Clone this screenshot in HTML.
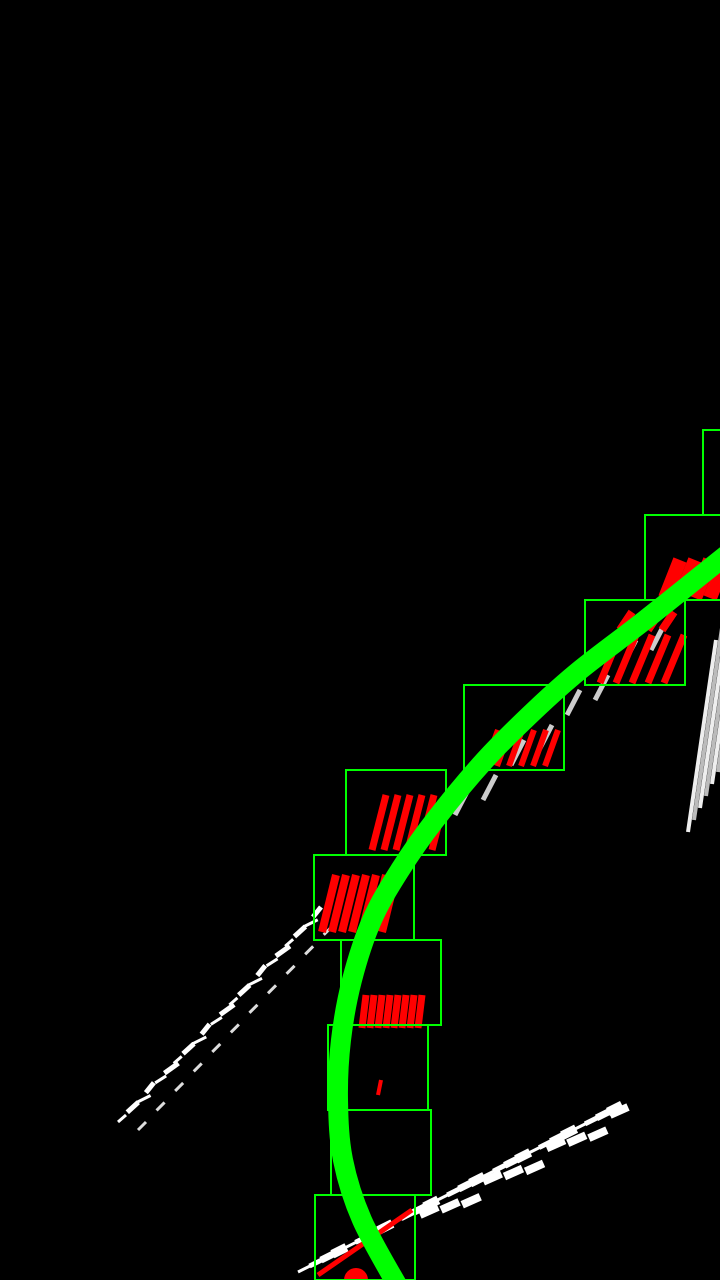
<!DOCTYPE html>
<html><head><meta charset="utf-8">
<style>html,body{margin:0;padding:0;background:#000;width:720px;height:1280px;overflow:hidden}</style>
</head><body>
<svg id="plot" width="720" height="1280" viewBox="0 0 720 1280" xmlns="http://www.w3.org/2000/svg">
<rect width="720" height="1280" fill="#000"/>
<g id="white"></g>
<g id="red"></g>
<g id="wins"></g>
<g id="fit"></g>
</svg>
<script>
// window centers (x) and top edges (y)
const windowCenters = [365, 381, 378, 391, 364, 396, 514, 635, 695, 753];
const windowTops = [1195, 1110, 1025, 940, 855, 770, 685, 600, 515, 430];
const windowW = 100, windowH = 85;
// fitted curve sample points (y, x)
const fitY = [1290, 1220, 1160, 1100, 1040, 980, 920, 870, 820, 760, 710, 670, 620, 560, 540];
const fitX = [400, 362, 343, 338, 341, 352, 372, 400, 435, 485, 535, 580, 645, 720, 745];

const NS = 'http://www.w3.org/2000/svg';
const wins = document.getElementById('wins');
windowCenters.forEach((c, i) => {
  const r = document.createElementNS(NS, 'rect');
  r.setAttribute('x', c - windowW / 2);
  r.setAttribute('y', windowTops[i]);
  r.setAttribute('width', windowW);
  r.setAttribute('height', windowH);
  r.setAttribute('fill', 'none');
  r.setAttribute('stroke', '#00ff00');
  r.setAttribute('stroke-width', '2');
  
  
  wins.appendChild(r);
});

// smooth Catmull-Rom path through fit points
const fit = document.getElementById('fit');
const pts = fitY.map((y, i) => [fitX[i], y]);
let d = 'M' + pts[0][0] + ',' + pts[0][1];
for (let i = 0; i < pts.length - 1; i++) {
  const p0 = pts[Math.max(0, i - 1)], p1 = pts[i], p2 = pts[i + 1], p3 = pts[Math.min(pts.length - 1, i + 2)];
  const c1 = [p1[0] + (p2[0] - p0[0]) / 6, p1[1] + (p2[1] - p0[1]) / 6];
  const c2 = [p2[0] - (p3[0] - p1[0]) / 6, p2[1] - (p3[1] - p1[1]) / 6];
  d += ' C' + c1 + ' ' + c2 + ' ' + p2;
}
const p = document.createElementNS(NS, 'path');
p.setAttribute('d', d);
p.setAttribute('fill', 'none');
p.setAttribute('stroke', '#00ff00');
p.setAttribute('stroke-width', '20');


fit.appendChild(p);

const red = document.getElementById('red');
function bar(g, x1, y1, x2, y2, w, col, name) {
  const l = document.createElementNS(NS, 'line');
  l.setAttribute('x1', x1); l.setAttribute('y1', y1);
  l.setAttribute('x2', x2); l.setAttribute('y2', y2);
  l.setAttribute('stroke', col); l.setAttribute('stroke-width', w);
  
  
  g.appendChild(l);
}
for (let k = 0; k < 5; k++) bar(red, 600 + k * 16, 683, 620 + k * 16, 635, 7, '#ff0000', 'red-streak');
for (let k = 0; k < 4; k++) bar(red, 620 + k * 14, 630, 632 + k * 14, 612, 8, '#ff0000', 'red-streak');
for (let k = 0; k < 4; k++) bar(red, 665 + k * 15, 598, 680 + k * 15, 560, 14, '#ff0000', 'red-streak');
for (let k = 0; k < 6; k++) bar(red, 485 + k * 12, 766, 498 + k * 12, 730, 6, '#ff0000', 'red-streak');
for (let k = 0; k < 6; k++) bar(red, 372 + k * 12, 850, 386 + k * 12, 795, 7, '#ff0000', 'red-streak');
for (let k = 0; k < 7; k++) bar(red, 322 + k * 10, 932, 336 + k * 10, 875, 8, '#ff0000', 'red-streak');
for (let k = 0; k < 8; k++) bar(red, 362 + k * 8, 1028, 366 + k * 8, 995, 7, '#ff0000', 'red-streak');
bar(red, 378, 1095, 381, 1080, 4, '#ff0000', 'red-streak');
bar(red, 318, 1275, 412, 1210, 5, '#ff0000', 'red-streak');
const dot = document.createElementNS(NS, 'circle');
dot.setAttribute('cx', 356); dot.setAttribute('cy', 1280); dot.setAttribute('r', 12);
dot.setAttribute('fill', '#ff0000');


red.appendChild(dot);

const white = document.getElementById('white');
for (let k = 0; k < 22; k++) {
  const t = k / 21;
  const x = 118 + t * 195, y = 1122 - t * 205;
  bar(white, x, y, x + 8 + (k % 3) * 3, y - 7 - (k % 2) * 3, 3 + (k % 2) * 2, '#ffffff', 'white-streak');
  if (k % 2 === 0) bar(white, x + 20, y + 8, x + 28, y, 3, '#dddddd', 'white-streak');
}
for (let k = 0; k < 28; k++) {
  const t = k / 27;
  const x = 298 + t * 310, y = 1272 - t * 160;
  bar(white, x, y, x + 14, y - 7, 3 + (k % 4) * 2, '#ffffff', 'white-streak');
}
for (let k = 0; k < 10; k++) {
  const t = k / 9;
  const x = 420 + t * 190, y = 1215 - t * 100 + (k % 3) * 6;
  bar(white, x, y, x + 18, y - 8, 8, '#ffffff', 'white-streak');
}
for (let k = 0; k < 6; k++) bar(white, 688 + k * 6, 832 - k * 12, 716 + k * 6, 640 - k * 12, 4, k % 2 ? '#bbbbbb' : '#eeeeee', 'white-streak');
for (let k = 0; k < 8; k++) bar(white, 455 + k * 28, 815 - k * 25 + (k % 2) * 10, 468 + k * 28, 790 - k * 25 + (k % 2) * 10, 5, '#cccccc', 'white-streak');
</script>
</body></html>
